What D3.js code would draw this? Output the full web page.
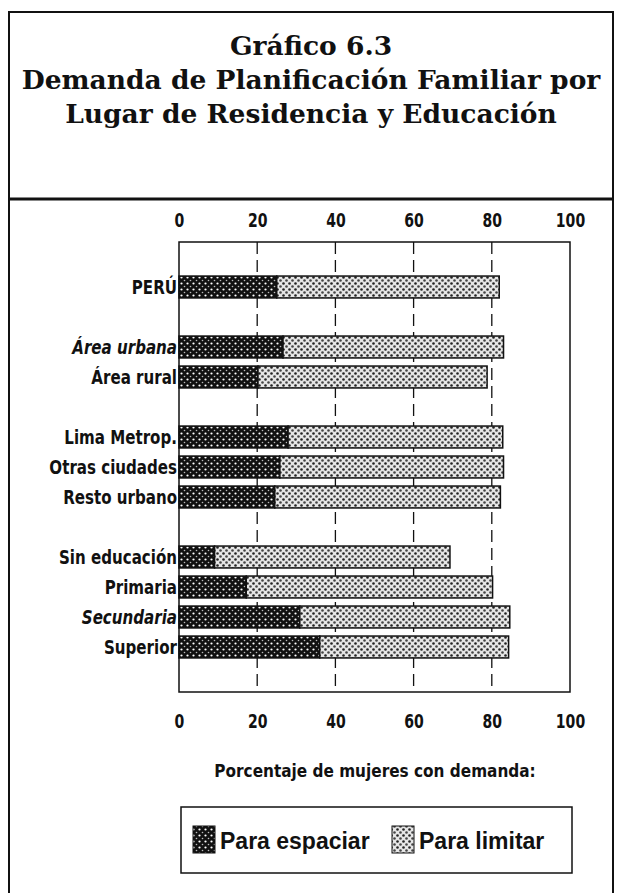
<!DOCTYPE html>
<html>
<head>
<meta charset="utf-8">
<script src="https://cdn.jsdelivr.net/npm/d3@7"></script>
<style>
  html, body { margin: 0; padding: 0; background: #fff; }
  svg { display: block; }
</style>
</head>
<body>
<svg id="chart" width="619" height="893"></svg>
<script>
// ---- data ----
const slots = ["_s0", "PERÚ", "_s1", "Área urbana", "Área rural", "_s2",
  "Lima Metrop.", "Otras ciudades", "Resto urbano", "_s3",
  "Sin educación", "Primaria", "Secundaria", "Superior", "_s4"];
const categories = ["PERÚ", "Área urbana", "Área rural", "Lima Metrop.", "Otras ciudades",
  "Resto urbano", "Sin educación", "Primaria", "Secundaria", "Superior"];
const paraEspaciar = [25.0, 26.6, 20.2, 27.9, 25.8, 24.5, 9.1, 17.2, 30.9, 36.0];
const paraLimitar  = [56.9, 56.4, 58.6, 54.9, 57.2, 57.7, 60.2, 63.0, 53.7, 48.3];
const italicCats = ["Área urbana", "Secundaria"];
const tickValues = [0, 20, 40, 60, 80, 100];
const gridValues = [20, 40, 60, 80];
const seriesNames = ["Para espaciar", "Para limitar"];
const titleLines = ["Gráfico 6.3", "Demanda de Planificación Familiar por", "Lugar de Residencia y Educación"];
const axisTitle = "Porcentaje de mujeres con demanda:";

// ---- setup ----
const svg = d3.select("#chart");
const narrow = "'DejaVu Sans Condensed', 'Liberation Sans Narrow', 'Arial Narrow', sans-serif";

const defs = svg.append("defs");
// dark pattern: black with white dots
const p1 = defs.append("pattern").attr("id", "patEsp").attr("patternUnits", "userSpaceOnUse")
  .attr("width", 6).attr("height", 6);
p1.append("rect").attr("width", 6).attr("height", 6).attr("fill", "#111");
p1.append("circle").attr("cx", 1.5).attr("cy", 1.5).attr("r", 1.1).attr("fill", "#fff");
p1.append("circle").attr("cx", 4.5).attr("cy", 4.5).attr("r", 0.8).attr("fill", "#bbb");
// light pattern: light grey with dark dots
const p2 = defs.append("pattern").attr("id", "patLim").attr("patternUnits", "userSpaceOnUse")
  .attr("width", 6).attr("height", 6);
p2.append("rect").attr("width", 6).attr("height", 6).attr("fill", "#e6e6e6");
p2.append("circle").attr("cx", 1.5).attr("cy", 1.5).attr("r", 1.3).attr("fill", "#222");
p2.append("circle").attr("cx", 4.5).attr("cy", 4.5).attr("r", 1.3).attr("fill", "#444");
const fills = ["url(#patEsp)", "url(#patLim)"];

// outer frame
svg.append("path")
  .attr("d", "M9,893 L9,12 L613,12 L613,893")
  .attr("fill", "none").attr("stroke", "#111").attr("stroke-width", 2);
// title separator
svg.append("line").attr("x1", 9).attr("x2", 613).attr("y1", 199).attr("y2", 199)
  .attr("stroke", "#111").attr("stroke-width", 3);

// title
svg.append("g").selectAll("text").data(titleLines).join("text")
  .attr("x", 311).attr("y", (d, i) => 55 + i * 34)
  .attr("text-anchor", "middle")
  .attr("font-family", "'DejaVu Serif', 'Liberation Serif', serif")
  .attr("font-weight", "bold").attr("font-size", 26.5)
  .attr("fill", "#111")
  .text(d => d);

// scales
const x = d3.scaleLinear().domain([0, 100]).range([179, 570]);
const y = d3.scaleBand().domain(slots).range([242, 692]).paddingInner(0.27).paddingOuter(0.135);

// plot box
svg.append("rect").attr("x", x(0)).attr("y", 242).attr("width", x(100) - x(0)).attr("height", 450)
  .attr("fill", "none").attr("stroke", "#111").attr("stroke-width", 1.5);

// gridlines
svg.append("g").selectAll("line").data(gridValues).join("line")
  .attr("x1", d => x(d)).attr("x2", d => x(d)).attr("y1", 242).attr("y2", 692)
  .attr("stroke", "#111").attr("stroke-width", 1.3).attr("stroke-dasharray", "12,6");

// axes (top and bottom), labels only
const fmt = d3.format("d");
const axTop = svg.append("g").attr("transform", "translate(0,227)")
  .call(d3.axisTop(x).tickValues(tickValues).tickFormat(fmt).tickSize(0).tickPadding(0));
const axBot = svg.append("g").attr("transform", "translate(0,710)")
  .call(d3.axisBottom(x).tickValues(tickValues).tickFormat(fmt).tickSize(0).tickPadding(0));
[axTop, axBot].forEach(ax => {
  ax.select(".domain").remove();
  ax.selectAll("text").attr("font-family", narrow).attr("font-weight", "bold")
    .attr("font-size", 20).attr("fill", "#111").attr("transform", "scale(0.78,1)");
});
axBot.selectAll("text").attr("dy", "0.9em");

// bars
const rows = categories.map((c, i) => ({ cat: c, vals: [paraEspaciar[i], paraLimitar[i]] }));
const stack = rows.map(r => {
  let acc = 0;
  return r.vals.map((v, j) => { const s = { cat: r.cat, x0: acc, x1: acc + v, s: j }; acc += v; return s; });
}).flat();

svg.append("g").selectAll("rect").data(stack).join("rect")
  .attr("x", d => x(d.x0)).attr("width", d => x(d.x1) - x(d.x0))
  .attr("y", d => y(d.cat)).attr("height", y.bandwidth())
  .attr("fill", d => fills[d.s])
  .attr("stroke", "#111").attr("stroke-width", 1.5);

// category labels
svg.append("g").selectAll("text").data(categories).join("text")
  .attr("transform", d => `translate(${x(0) - 2},${y(d) + y.bandwidth() / 2}) scale(0.86,1)`)
  .attr("dy", "0.36em").attr("text-anchor", "end")
  .attr("font-family", narrow).attr("font-weight", "bold").attr("font-size", 19.5)
  .attr("font-style", d => italicCats.includes(d) ? "italic" : "normal")
  .attr("fill", "#111")
  .text(d => d);

// axis title
svg.append("text").attr("transform", "translate(375,777) scale(0.92,1)").attr("text-anchor", "middle")
  .attr("font-family", narrow).attr("font-weight", "bold").attr("font-size", 18.5)
  .attr("fill", "#111").text(axisTitle);

// legend
const lg = svg.append("g");
lg.append("rect").attr("x", 181).attr("y", 807).attr("width", 391).attr("height", 66)
  .attr("fill", "none").attr("stroke", "#111").attr("stroke-width", 1.5);
const legendX = [193, 392];
seriesNames.forEach((name, i) => {
  lg.append("rect").attr("x", legendX[i]).attr("y", 826).attr("width", 22).attr("height", 27)
    .attr("fill", fills[i]).attr("stroke", "#111").attr("stroke-width", 1);
  lg.append("text").attr("x", legendX[i] + 27).attr("y", 849)
    .attr("font-family", "'Liberation Sans', Arial, sans-serif").attr("font-weight", "bold")
    .attr("font-size", 23).attr("fill", "#111").text(name);
});
</script>
</body>
</html>
